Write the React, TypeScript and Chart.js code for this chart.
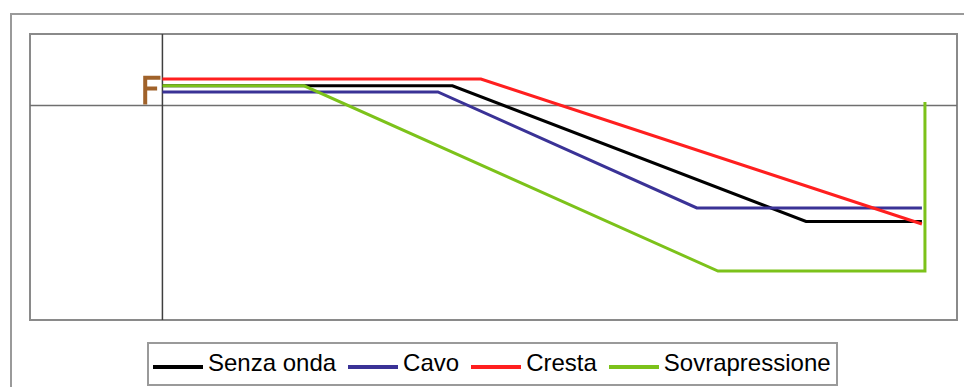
import React, { useEffect, useRef } from "react";
import { Chart, registerables } from "chart.js";

Chart.register(...registerables);

// Series data (x = distance, y = level)
const senzaOndaX = [0, 21.9, 48.6, 57.35];
const senzaOndaY = [1.1, 1.1, -6.49, -6.49];

const cavoX = [0, 20.8, 40.35, 57.35];
const cavoY = [0.76, 0.76, -5.73, -5.73];

const crestaX = [0, 24.05, 57.35];
const crestaY = [1.48, 1.48, -6.63];

const sovrapressioneX = [0, 10.7, 41.95, 57.58, 57.58];
const sovrapressioneY = [1.1, 1.1, -9.26, -9.26, 0.2];

// small brown "F" marker at the left of the origin
const markerX = [-1.3, -1.3, -0.15, NaN, -1.3, -0.4];
const markerY = [0.05, 1.55, 1.55, NaN, 0.95, 0.95];

const seriesLabels = ["Senza onda", "Cavo", "Cresta", "Sovrapressione"];
const seriesColors = ["#000000", "#3a3296", "#ff1f1f", "#7cc21a"];

const xMin = -10;
const xMax = 60;
const yMin = -12;
const yMax = 4;

function pts(xs: number[], ys: number[]) {
  return xs.map((x, i) =>
    Number.isNaN(x) ? { x: null as any, y: null as any } : { x, y: ys[i] }
  );
}

const framePlugin = {
  id: "framePlugin",
  beforeDatasetsDraw(chart: any) {
    const { ctx, chartArea, scales } = chart;
    ctx.save();
    // outer chart frame
    ctx.strokeStyle = "#9a9a9a";
    ctx.lineWidth = 2;
    ctx.beginPath();
    ctx.moveTo(11, 387);
    ctx.lineTo(11, 14);
    ctx.lineTo(964, 14);
    ctx.stroke();
    // plot area border
    ctx.strokeStyle = "#8a8a8a";
    ctx.lineWidth = 2;
    ctx.strokeRect(
      chartArea.left,
      chartArea.top,
      chartArea.right - chartArea.left,
      chartArea.bottom - chartArea.top
    );
    // axis lines through zero
    const x0 = scales.x.getPixelForValue(0);
    const y0 = scales.y.getPixelForValue(0);
    ctx.lineWidth = 1.5;
    ctx.strokeStyle = "#6f6f6f";
    ctx.beginPath();
    ctx.moveTo(chartArea.left, y0);
    ctx.lineTo(chartArea.right, y0);
    ctx.stroke();
    ctx.strokeStyle = "#3f3f3f";
    ctx.beginPath();
    ctx.moveTo(x0, chartArea.top);
    ctx.lineTo(x0, chartArea.bottom);
    ctx.stroke();
    ctx.restore();
  },
};

export default function App() {
  const canvasRef = useRef<HTMLCanvasElement | null>(null);

  useEffect(() => {
    if (!canvasRef.current) return;
    const common = {
      showLine: true,
      pointRadius: 0,
      borderWidth: 3,
      fill: false,
      spanGaps: false,
      borderJoinStyle: "miter" as const,
      tension: 0,
    };
    const chart = new Chart(canvasRef.current, {
      type: "scatter",
      data: {
        datasets: [
          { ...common, label: seriesLabels[0], data: pts(senzaOndaX, senzaOndaY), borderColor: seriesColors[0], backgroundColor: seriesColors[0], order: 4 },
          { ...common, label: seriesLabels[1], data: pts(cavoX, cavoY), borderColor: seriesColors[1], backgroundColor: seriesColors[1], order: 3 },
          { ...common, label: seriesLabels[2], data: pts(crestaX, crestaY), borderColor: seriesColors[2], backgroundColor: seriesColors[2], order: 2 },
          { ...common, label: seriesLabels[3], data: pts(sovrapressioneX, sovrapressioneY), borderColor: seriesColors[3], backgroundColor: seriesColors[3], order: 1 },
          { ...common, label: "", data: pts(markerX, markerY), borderColor: "#a0622a", backgroundColor: "#a0622a", borderWidth: 4, order: 0 },
        ],
      },
      options: {
        animation: false,
        responsive: false,
        maintainAspectRatio: false,
        layout: { padding: { left: 30, right: 7, top: 34, bottom: 67 } },
        plugins: {
          legend: { display: false },
          tooltip: { enabled: false },
        },
        scales: {
          x: { type: "linear", min: xMin, max: xMax, display: false },
          y: { type: "linear", min: yMin, max: yMax, display: false },
        },
      },
      plugins: [framePlugin],
    });
    return () => chart.destroy();
  }, []);

  return (
    <div
      style={{
        position: "fixed",
        left: 0,
        top: 0,
        width: 964,
        height: 387,
        background: "#ffffff",
        overflow: "hidden",
      }}
    >
      <canvas ref={canvasRef} width={964} height={387} style={{ position: "absolute", left: 0, top: 0 }} />
      <div
        style={{
          position: "absolute",
          left: 147,
          top: 342,
          width: 691,
          height: 44,
          boxSizing: "border-box",
          border: "2px solid #9a9a9a",
          background: "#ffffff",
          display: "flex",
          alignItems: "center",
          paddingLeft: 4,
          fontFamily: "'Liberation Sans', Arial, sans-serif",
          fontSize: 24,
          color: "#000",
          whiteSpace: "nowrap",
        }}
      >
        {seriesLabels.map((lab, i) => (
          <div key={lab} style={{ display: "flex", alignItems: "center", marginRight: 12 }}>
            <span
              style={{
                display: "inline-block",
                width: 50,
                height: 4,
                background: seriesColors[i],
                position: "relative",
                top: 3,
                marginRight: 5,
              }}
            />
            <span style={{ position: "relative", top: -1 }}>{lab}</span>
          </div>
        ))}
      </div>
    </div>
  );
}
